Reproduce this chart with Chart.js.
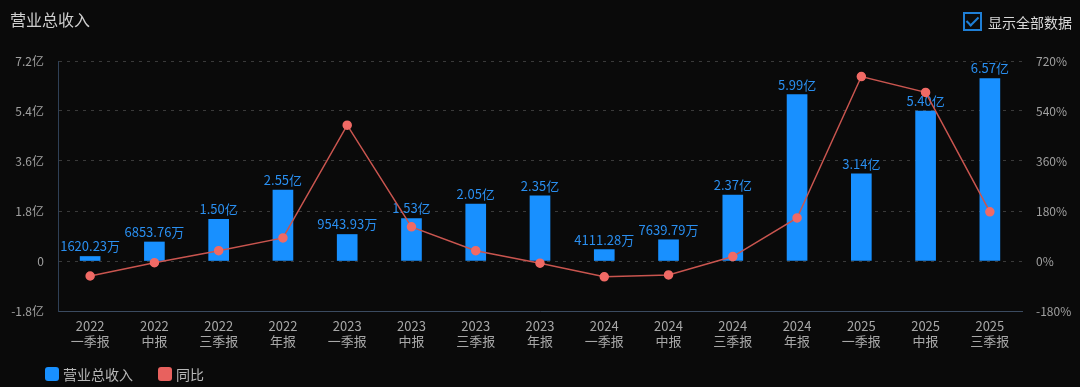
<!DOCTYPE html>
<html>
<head>
<meta charset="utf-8">
<script src="https://cdn.jsdelivr.net/npm/chart.js@4.4.1/dist/chart.umd.min.js"></script>
<style>
  html, body { margin: 0; padding: 0; background: #0a0a0a; }
  body { width: 1080px; height: 387px; position: relative; overflow: hidden;
         font-family: "Noto Sans CJK SC", "Noto Sans", sans-serif; }
  #wrap { position: absolute; left: 0; top: 0; width: 1080px; height: 387px; }
  .title { position: absolute; left: 10px; top: 7px; font-size: 16px; color: #cfcfcf; }
  .toggle { position: absolute; left: 963px; top: 12px; height: 19px; display: flex; align-items: center; }
  .toggle .box { width: 15px; height: 15px; border: 2px solid #1f7fd6; position: relative; }
  .toggle .box::after { content: ""; position: absolute; left: 4px; top: 0px; width: 5px; height: 10px;
         border-right: 2px solid #1f7fd6; border-bottom: 2px solid #1f7fd6; transform: rotate(45deg); }
  .toggle span { margin-left: 6px; font-size: 14px; color: #d8d8d8; }
  .legend { position: absolute; top: 364px; display: flex; align-items: center; font-size: 14px; color: #b8b8b8; }
  .legend i { display: inline-block; width: 14px; height: 14px; border-radius: 3px; margin-right: 4px; }
</style>
</head>
<body>
<div id="wrap"><canvas id="chart"></canvas></div>
<div class="title">营业总收入</div>
<div class="toggle"><div class="box"></div><span>显示全部数据</span></div>
<div class="legend" style="left:45px"><i style="background:#1890ff"></i>营业总收入</div>
<div class="legend" style="left:158px"><i style="background:#e8615e"></i>同比</div>
<script>
const years = ["2022", "2022", "2022", "2022", "2023", "2023", "2023", "2023",
               "2024", "2024", "2024", "2024", "2025", "2025", "2025"];
const periods = ["一季报", "中报", "三季报", "年报", "一季报", "中报", "三季报", "年报",
                 "一季报", "中报", "三季报", "年报", "一季报", "中报", "三季报"];
// 营业总收入 (亿)
const revenue = [0.162, 0.685, 1.50, 2.55, 0.954, 1.53, 2.05, 2.35,
                 0.411, 0.764, 2.37, 5.99, 3.14, 5.40, 6.57];
const revenueText = ["1620.23万", "6853.76万", "1.50亿", "2.55亿", "9543.93万", "1.53亿", "2.05亿", "2.35亿",
                     "4111.28万", "7639.79万", "2.37亿", "5.99亿", "3.14亿", "5.40亿", "6.57亿"];
// 同比 (%)
const yoy = [-54, -6, 37, 83, 489, 123, 37, -8, -57, -50, 16, 155, 664, 607, 177];

const FONT = "'Noto Sans CJK SC', 'Noto Sans', sans-serif";

const barLabels = {
  id: "barLabels",
  afterDatasetDraw(chart, args) {
    if (args.meta.type !== "bar") return;
    const ctx = chart.ctx;
    ctx.save();
    ctx.font = "13px " + FONT;
    ctx.fillStyle = "#2a8ff0";
    ctx.textAlign = "center";
    ctx.textBaseline = "middle";
    args.meta.data.forEach((bar, i) => {
      ctx.fillText(revenueText[i], bar.x, bar.y - 10);
    });
    ctx.restore();
  }
};

new Chart(document.getElementById("chart"), {
  data: {
    labels: years.map((y, i) => [y, periods[i]]),
    datasets: [
      {
        type: "line",
        label: "同比",
        data: yoy,
        yAxisID: "y1",
        borderColor: "#c9554f",
        borderWidth: 1.5,
        pointBackgroundColor: "#f06a65",
        pointBorderColor: "#f06a65",
        pointRadius: 4,
        tension: 0,
        order: 0
      },
      {
        type: "bar",
        label: "营业总收入",
        data: revenue,
        yAxisID: "y",
        backgroundColor: "#1890ff",
        barThickness: 20,
        order: 1
      }
    ]
  },
  options: {
    responsive: true,
    maintainAspectRatio: false,
    animation: false,
    layout: { padding: { top: 61, bottom: 36, left: 0, right: 0 } },
    plugins: {
      legend: { display: false },
      tooltip: { enabled: false }
    },
    scales: {
      x: {
        grid: { display: false, drawTicks: false },
        border: { display: true, color: "#3b4b60", width: 1 },
        ticks: {
          color: "#a8a8a8",
          font: { size: 13, family: FONT, lineHeight: 1.15 },
          padding: 8,
          maxRotation: 0,
          autoSkip: false
        },
        afterFit: s => { s.height = 40; }
      },
      y: {
        position: "left",
        min: -1.8,
        max: 7.2,
        grid: {
          drawTicks: false,
          color: ctx => (ctx.tick && ctx.tick.value < -1) ? "rgba(0,0,0,0)" : "#3a3a3a",
          lineWidth: 1
        },
        border: { display: true, color: "#2f4056", dash: [3, 5] },
        ticks: {
          stepSize: 1.8,
          color: "#a0a0a0",
          font: { size: 12, family: FONT },
          padding: 14,
          callback: v => Math.abs(v) < 1e-9 ? "0" : v.toFixed(1) + "亿"
        },
        afterFit: s => { s.width = 58; }
      },
      y1: {
        position: "right",
        min: -180,
        max: 720,
        grid: { drawOnChartArea: false, drawTicks: false },
        border: { display: false },
        ticks: {
          stepSize: 180,
          color: "#a0a0a0",
          font: { size: 12, family: FONT },
          padding: 14,
          callback: v => Math.round(v) + "%"
        },
        afterFit: s => { s.width = 58; }
      }
    }
  },
  plugins: [barLabels]
});
</script>
</body>
</html>
